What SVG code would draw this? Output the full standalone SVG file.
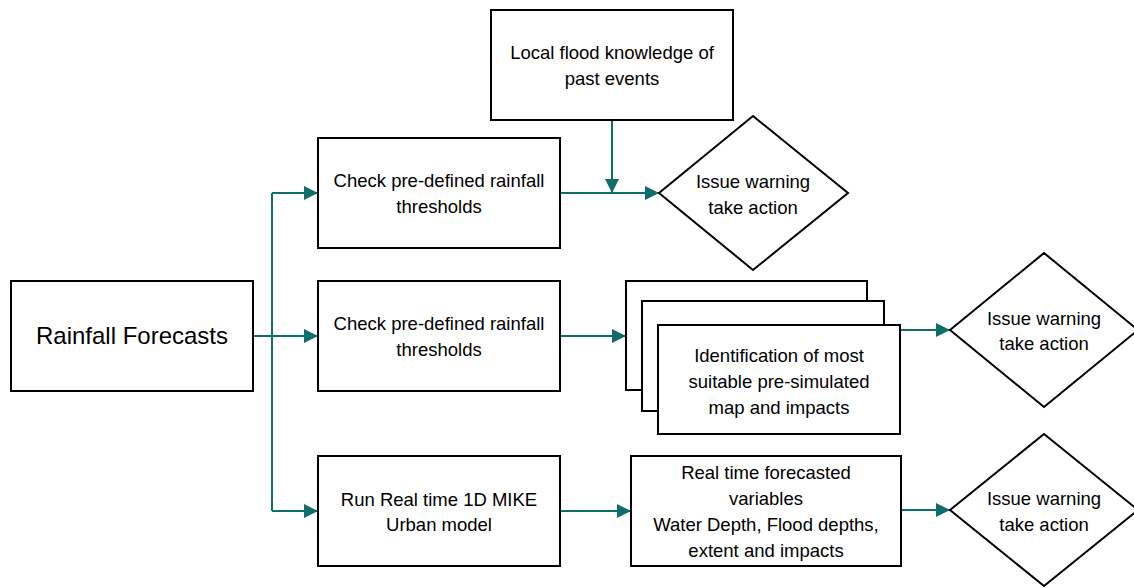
<svg xmlns="http://www.w3.org/2000/svg" width="1134" height="588" viewBox="0 0 1134 588">
  <style>
    .box { fill: #ffffff; stroke: #000000; stroke-width: 2; }
    .dia { fill: #ffffff; stroke: #000000; stroke-width: 2; stroke-linejoin: miter; }
    .conn { fill: none; stroke: #0f6d6a; stroke-width: 2; }
    .arrow { fill: none; stroke: #0f6d6a; stroke-width: 2; marker-end: url(#head); }
    text { font-family: "Liberation Sans", Arial, sans-serif; font-size: 18.5px; fill: #000000; text-anchor: middle; }
    .big { font-size: 24px; }
  </style>
  <defs>
    <marker id="head" viewBox="0 0 14 14" refX="14" refY="7" markerWidth="14" markerHeight="14" markerUnits="userSpaceOnUse" orient="auto">
      <path d="M0,0 L14,7 L0,14 Z" fill="#0f6d6a"/>
    </marker>
  </defs>
  <rect width="1134" height="588" fill="#ffffff"/>

  <!-- connectors -->
  <g id="connectors">
    <path class="conn" d="M253,336 H272 M272,193 V511"/>
    <path class="arrow" d="M272,193 H318"/>
    <path class="arrow" d="M253,336 H318"/>
    <path class="arrow" d="M272,511 H318"/>
    <path class="arrow" d="M560,193 H659"/>
    <path class="arrow" d="M612,120 V193"/>
    <path class="arrow" d="M560,336 H626"/>
    <path class="arrow" d="M901,330 H950"/>
    <path class="arrow" d="M560,511 H631"/>
    <path class="arrow" d="M901,510 H950"/>
  </g>

  <g id="rainfall">
    <rect class="box" x="11" y="281" width="242" height="110"/>
    <text class="big" x="132" y="344">Rainfall Forecasts</text>
  </g>

  <g id="local-knowledge">
    <rect class="box" x="491" y="10" width="242" height="110"/>
    <text x="612" y="59">Local flood knowledge of</text>
    <text x="612" y="85">past events</text>
  </g>

  <g id="check-thresholds-1">
    <rect class="box" x="318" y="138" width="242" height="110"/>
    <text x="439" y="187">Check pre-defined rainfall</text>
    <text x="439" y="213">thresholds</text>
  </g>

  <g id="warning-1">
    <polygon class="dia" points="753,116 848,193 753,270 659,193"/>
    <text x="753" y="188">Issue warning</text>
    <text x="753" y="214">take action</text>
  </g>

  <g id="check-thresholds-2">
    <rect class="box" x="318" y="281" width="242" height="110"/>
    <text x="439" y="330">Check pre-defined rainfall</text>
    <text x="439" y="356">thresholds</text>
  </g>

  <g id="pre-simulated-maps">
    <rect class="box" x="626" y="281" width="241" height="109"/>
    <rect class="box" x="642" y="301" width="242" height="110"/>
    <rect class="box" x="658" y="325" width="242" height="109"/>
    <text x="779" y="362">Identification of most</text>
    <text x="779" y="388">suitable pre-simulated</text>
    <text x="779" y="414">map and impacts</text>
  </g>

  <g id="warning-2">
    <polygon class="dia" points="1044,253 1138,330 1044,407 950,330"/>
    <text x="1044" y="325">Issue warning</text>
    <text x="1044" y="350">take action</text>
  </g>

  <g id="mike-urban">
    <rect class="box" x="318" y="456" width="242" height="110"/>
    <text x="439" y="506">Run Real time 1D MIKE</text>
    <text x="439" y="531">Urban model</text>
  </g>

  <g id="forecast-variables">
    <rect class="box" x="631" y="456" width="270" height="110"/>
    <text x="766" y="479">Real time forecasted</text>
    <text x="766" y="505">variables</text>
    <text x="766" y="531">Water Depth, Flood depths,</text>
    <text x="766" y="557">extent and impacts</text>
  </g>

  <g id="warning-3">
    <polygon class="dia" points="1044,434 1138,510 1044,586 950,510"/>
    <text x="1044" y="505">Issue warning</text>
    <text x="1044" y="531">take action</text>
  </g>
</svg>
